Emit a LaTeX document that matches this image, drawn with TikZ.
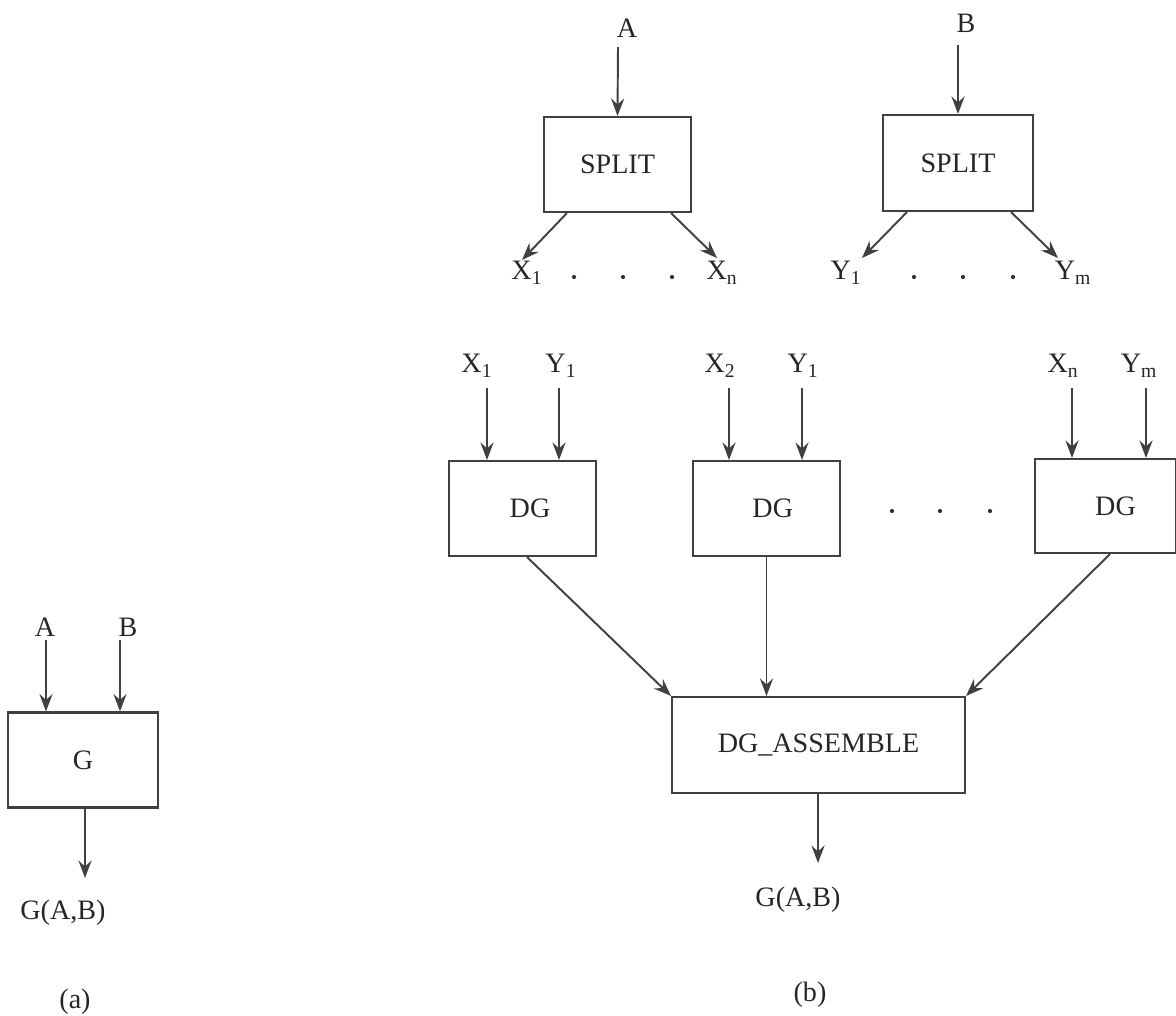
\documentclass[tikz,border=0pt]{standalone}
\usepackage{fontspec}
\setmainfont{Liberation Serif}
\usetikzlibrary{arrows.meta, positioning}

\begin{document}
\begin{tikzpicture}[x=0.02cm, y=-0.02cm, font=\fontsize{16}{19}\selectfont, text=black!85,
		box/.style={draw=black!75, line width=1.2pt, minimum height=1.9cm, inner sep=0pt},
		lbl/.style={inner sep=0pt},
		arr/.style={draw=black!75, line width=1.1pt, -{Stealth[length=10pt, width=7.5pt, inset=3.5pt]}},
		dot/.style={fill=black!80, circle, inner sep=0pt, minimum size=2.4pt}]
	\useasboundingbox (0,0) rectangle (1176,1015);

	\node[box, minimum width=3cm] (g) at (83,760) {G};
	\node[lbl] (la) at (45,627) {A};
	\node[lbl] (lb) at (128,627) {B};
	\node[lbl] (gab) at (63,913) {G(A,B)};
	\node[lbl] (capa) at (75,1002) {(a)};
	\coordinate (ina) at (46,640);
	\coordinate (inb) at (120,640);
	\coordinate (gout) at (85,878);
	\draw[arr] (ina) -- (ina |- g.north);
	\draw[arr] (inb) -- (inb |- g.north);
	\draw[arr] (gout |- g.south) -- (gout);

	\node[box, minimum width=2.94cm] (splita) at (617.5,164.5) {SPLIT\hspace{0.4cm}};
	\node[box, minimum width=3cm, minimum height=1.92cm] (splitb) at (958,163) {SPLIT\hspace{0.4cm}};
	\node[lbl] (ta) at (627,28) {A};
	\node[lbl] (tb) at (966,23) {B};
	\coordinate (ain) at (618,47);
	\coordinate (bin) at (958,45);
	\draw[arr] (ain) -- (splita.north);
	\draw[arr] (bin) -- (splitb.north);
	\node[lbl] (sx1) at (527,273) {X\textsubscript{1}};
	\node[lbl] (sxn) at (722,273) {X\textsubscript{n}};
	\node[lbl] (sy1) at (846,273) {Y\textsubscript{1}};
	\node[lbl] (sym) at (1073,273) {Y\textsubscript{m}};
	\coordinate (tx1) at (522,260);
	\coordinate (txn) at (717,258);
	\coordinate (ty1) at (862,258);
	\coordinate (tym) at (1058,258);
	\draw[arr] ([xshift=0.48cm]splita.south west) -- (tx1);
	\draw[arr] ([xshift=-0.42cm]splita.south east) -- (txn);
	\draw[arr] ([xshift=0.5cm]splitb.south west) -- (ty1);
	\draw[arr] ([xshift=-0.46cm]splitb.south east) -- (tym);
	\foreach \x in {574,623,672,914,963,1013}
		\node[dot] at (\x,277) {};

	\node[box, minimum width=2.94cm] (dg1) at (522.5,508.5) {\hspace{0.3cm}DG};
	\node[box, minimum width=2.94cm] (dg2) at (766.5,508.5) {\hspace{0.25cm}DG};
	\node[box, minimum width=2.82cm, minimum height=1.88cm] (dg3) at (1105.5,506) {\hspace{0.4cm}DG};
	\foreach \x in {892,940,990}
		\node[dot] at (\x,511) {};
	\node[lbl] (x1) at (477,366) {X\textsubscript{1}};
	\node[lbl] (y1) at (561,366) {Y\textsubscript{1}};
	\node[lbl] (x2) at (720,366) {X\textsubscript{2}};
	\node[lbl] (y1b) at (803,366) {Y\textsubscript{1}};
	\node[lbl] (xn) at (1063,366) {X\textsubscript{n}};
	\node[lbl] (ym) at (1139,366) {Y\textsubscript{m}};
	\foreach \x/\b [count=\i] in {487/dg1,559/dg1,729/dg2,802/dg2,1072/dg3,1146/dg3} {
		\coordinate (in\i) at (\x,388);
		\draw[arr] (in\i) -- (in\i |- \b.north);
	}

	\node[box, minimum width=5.86cm, minimum height=1.92cm] (asm) at (818.5,745) {DG\_ASSEMBLE};
	\draw[arr] ([xshift=0.09cm]dg1.south) -- (asm.north west);
	\draw[arr] (dg2.south) -- (dg2.south |- asm.north);
	\draw[arr] ([xshift=0.09cm]dg3.south) -- (asm.north east);
	\coordinate (bout) at (818,863);
	\node[lbl] (gabb) at (798,900) {G(A,B)};
	\node[lbl] (capb) at (810,995) {(b)};
	\draw[arr] (bout |- asm.south) -- (bout);
\end{tikzpicture}
\end{document}
